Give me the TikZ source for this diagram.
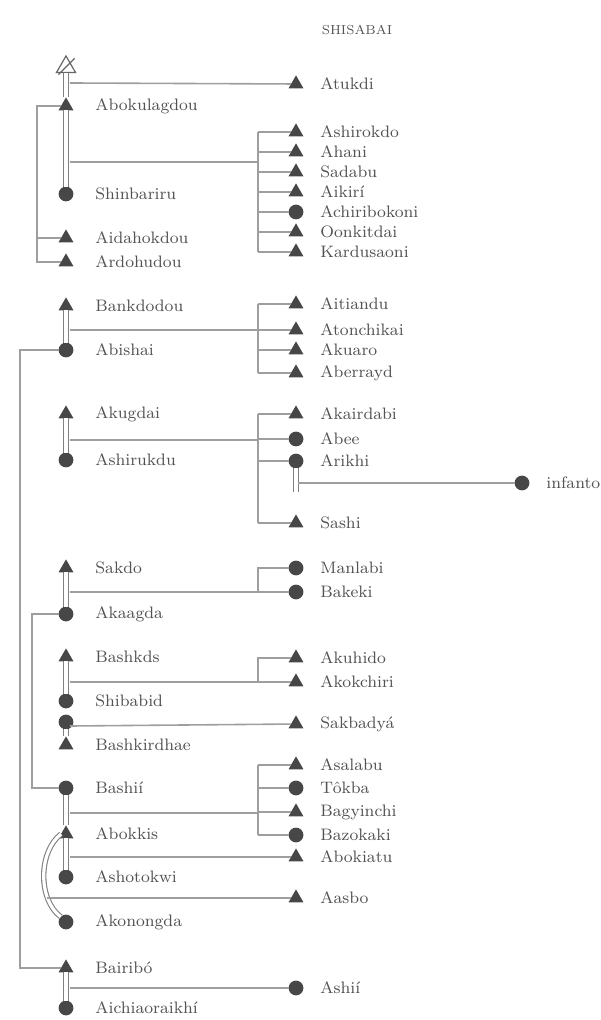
\documentclass[tikz,border=0pt]{standalone}
\usetikzlibrary{shapes.geometric}
\tikzset{
  male/.style={regular polygon, regular polygon sides=3, fill=black!72, draw=none,
               minimum size=8.6pt, inner sep=0pt, outer sep=0pt},
  female/.style={circle, fill=black!72, draw=none, minimum size=7.4pt, inner sep=0pt, outer sep=0pt},
  dead/.style={regular polygon, regular polygon sides=3, draw=black!60, line width=0.6pt,
               minimum size=11pt, inner sep=0pt},
  lbl/.style={anchor=west, inner sep=0pt, text=black!68, font=\fontsize{8.3}{10}\selectfont},
  kin/.style={draw=black!38, line width=0.8pt},
  marr/.style={draw=black!50, double=white, double distance=1.6pt, line width=0.55pt}
}
\begin{document}
\begin{tikzpicture}[x=0.5pt,y=-0.5pt]
\useasboundingbox (0,0) rectangle (600,1020);

\node[lbl, anchor=center, font=\fontsize{6.5}{8}\selectfont] (title) at (357,30) {SHISABAI};

% bracket columns
\coordinate (b1) at (258,0);
\coordinate (sib) at (37,0);
\coordinate (bigl) at (20,0);
\coordinate (midl) at (32,0);

% ---------------- group 1
\node[dead] (zero) at (66,67) {};
\draw[black!60, line width=0.6pt, shorten <=-1pt, shorten >=-3pt]
  (zero.south west) -- (zero.north east);
\foreach \n/\shp/\y/\lab in {abokulagdou/male/106/Abokulagdou,
                              shinbariru/female/194/Shinbariru,
                              aidahokdou/male/238/Aidahokdou,
                              ardohudou/male/262/Ardohudou}{
  \node[\shp] (\n) at (66,\y) {};
  \node[lbl] (\n-l) at (95,\y) {\lab};
}
\node[male] (atukdi) at (296,84) {};
\node[lbl] (atukdi-l) at (320,84) {Atukdi};
\coordinate (m0) at (70,83);
\draw[marr] (zero) -- (abokulagdou);
\draw[kin] (m0) -- (atukdi);
\draw[marr] (abokulagdou) -- (shinbariru);
\draw[kin] (abokulagdou) -| (sib |- aidahokdou) |- (ardohudou);
\draw[kin] (aidahokdou) -- (aidahokdou -| sib);

\foreach \n/\shp/\y/\lab in {ashirokdo/male/132/Ashirokdo, ahani/male/152/Ahani,
                              sadabu/male/172/Sadabu, aikiri/male/192/Aikirí,
                              achiribokoni/female/212/Achiribokoni,
                              oonkitdai/male/232/Oonkitdai,
                              kardusaoni/male/252/Kardusaoni}{
  \node[\shp] (\n) at (296,\y) {};
  \node[lbl] (\n-l) at (320,\y) {\lab};
  \draw[kin] (\n) -- (\n -| b1);
}
\coordinate (m1) at (70,162);
\draw[kin] (ashirokdo -| b1) -- (kardusaoni -| b1);
\draw[kin] (m1) -- (m1 -| b1);

% ---------------- group 2
\node[male] (bankdodou) at (66,306) {};
\node[lbl] (bankdodou-l) at (95,306) {Bankdodou};
\node[female] (abishai) at (66,350) {};
\node[lbl] (abishai-l) at (95,350) {Abishai};
\draw[marr] (bankdodou) -- (abishai);
\foreach \n/\shp/\y/\lab in {aitiandu/male/304/Aitiandu, atonchikai/male/330/Atonchikai,
                              akuaro/male/350/Akuaro, aberrayd/male/373/Aberrayd}{
  \node[\shp] (\n) at (296,\y) {};
  \node[lbl] (\n-l) at (320,\y) {\lab};
  \draw[kin] (\n) -- (\n -| b1);
}
\coordinate (m2) at (70,330);
\draw[kin] (aitiandu -| b1) -- (aberrayd -| b1);
\draw[kin] (m2) -- (m2 -| b1);

% ---------------- group 3
\node[male] (akugdai) at (66,414) {};
\node[lbl] (akugdai-l) at (95,414) {Akugdai};
\node[female] (ashirukdu) at (66,460) {};
\node[lbl] (ashirukdu-l) at (95,460) {Ashirukdu};
\draw[marr] (akugdai) -- (ashirukdu);
\foreach \n/\shp/\y/\lab in {akairdabi/male/414/Akairdabi, abee/female/439/Abee,
                              arikhi/female/461/Arikhi, sashi/male/523/Sashi}{
  \node[\shp] (\n) at (296,\y) {};
  \node[lbl] (\n-l) at (320,\y) {\lab};
  \draw[kin] (\n) -- (\n -| b1);
}
\coordinate (m3) at (70,440);
\draw[kin] (akairdabi -| b1) -- (sashi -| b1);
\draw[kin] (m3) -- (m3 -| b1);
\node[female] (infanto) at (522,483) {};
\node[lbl] (infanto-l) at (546,483) {infanto};
\coordinate (ark) at (296,492);
\coordinate (m3b) at (298,483);
\draw[marr] (arikhi) -- (ark);
\draw[kin] (m3b) -- (infanto);

% ---------------- group 4
\node[male] (sakdo) at (66,568) {};
\node[lbl] (sakdo-l) at (95,568) {Sakdo};
\node[female] (akaagda) at (66,614) {};
\node[lbl] (akaagda-l) at (95,614) {Akaagda};
\draw[marr] (sakdo) -- (akaagda);
\node[female] (manlabi) at (296,568) {};
\node[lbl] (manlabi-l) at (320,568) {Manlabi};
\node[female] (bakeki) at (296,592) {};
\node[lbl] (bakeki-l) at (320,592) {Bakeki};
\coordinate (m4) at (70,592);
\draw[kin] (m4) -- (bakeki);
\draw[kin] (manlabi) -| (bakeki -| b1);

% ---------------- group 5
\node[male] (bashkds) at (66,657) {};
\node[lbl] (bashkds-l) at (95,657) {Bashkds};
\node[female] (shibabid) at (66,701) {};
\node[lbl] (shibabid-l) at (95,701) {Shibabid};
\node[female] (shibabidb) at (66,722) {};
\node[male] (bashkirdhae) at (66,745) {};
\node[lbl] (bashkirdhae-l) at (95,745) {Bashkirdhae};
\draw[marr] (bashkds) -- (shibabid);
\draw[marr] (shibabidb) -- (bashkirdhae);
\node[male] (akuhido) at (296,658) {};
\node[lbl] (akuhido-l) at (320,658) {Akuhido};
\node[male] (akokchiri) at (296,682) {};
\node[lbl] (akokchiri-l) at (320,682) {Akokchiri};
\node[male] (sakbadya) at (296,724) {};
\node[lbl] (sakbadya-l) at (320,724) {Sakbadyá};
\coordinate (m5) at (70,682);
\coordinate (m5b) at (70,726);
\draw[kin] (m5) -- (akokchiri);
\draw[kin] (akuhido) -| (akokchiri -| b1);
\draw[kin] (m5b) -- (sakbadya);

% ---------------- group 6
\foreach \n/\shp/\y/\lab in {bashii/female/788/Bashií, abokkis/male/834/Abokkis,
                              ashotokwi/female/877/Ashotokwi,
                              akonongda/female/922/Akonongda}{
  \node[\shp] (\n) at (66,\y) {};
  \node[lbl] (\n-l) at (95,\y) {\lab};
}
\draw[marr] (bashii) -- (abokkis);
\draw[marr] (abokkis) -- (ashotokwi);
\draw[marr] (abokkis.west) .. controls (38,852) and (38,900) .. (akonongda.north west);
\foreach \n/\shp/\y/\lab in {asalabu/male/765/Asalabu, tokba/female/788/Tôkba,
                              bagyinchi/male/812/Bagyinchi, bazokaki/female/835/Bazokaki}{
  \node[\shp] (\n) at (296,\y) {};
  \node[lbl] (\n-l) at (320,\y) {\lab};
  \draw[kin] (\n) -- (\n -| b1);
}
\coordinate (m6) at (70,813);
\draw[kin] (asalabu -| b1) -- (bazokaki -| b1);
\draw[kin] (m6) -- (m6 -| b1);
\node[male] (abokiatu) at (296,857) {};
\node[lbl] (abokiatu-l) at (320,857) {Abokiatu};
\node[male] (aasbo) at (296,898) {};
\node[lbl] (aasbo-l) at (320,898) {Aasbo};
\coordinate (m6b) at (70,857);
\coordinate (m6c) at (47,898);
\draw[kin] (m6b) -- (abokiatu);
\draw[kin] (m6c) -- (aasbo);

% ---------------- group 7
\node[male] (bairibo) at (66,968) {};
\node[lbl] (bairibo-l) at (95,968) {Bairibó};
\node[female] (aichia) at (66,1008) {};
\node[lbl] (aichia-l) at (95,1008) {Aichiaoraikhí};
\draw[marr] (bairibo) -- (aichia);
\node[female] (ashii) at (296,988) {};
\node[lbl] (ashii-l) at (320,988) {Ashií};
\coordinate (m7) at (70,988);
\draw[kin] (m7) -- (ashii);

% ---------------- sibling lines on the left
\draw[kin] (abishai) -| (bigl |- bairibo) -- (bairibo);
\draw[kin] (akaagda) -| (midl |- bashii) -- (bashii);

\end{tikzpicture}
\end{document}
